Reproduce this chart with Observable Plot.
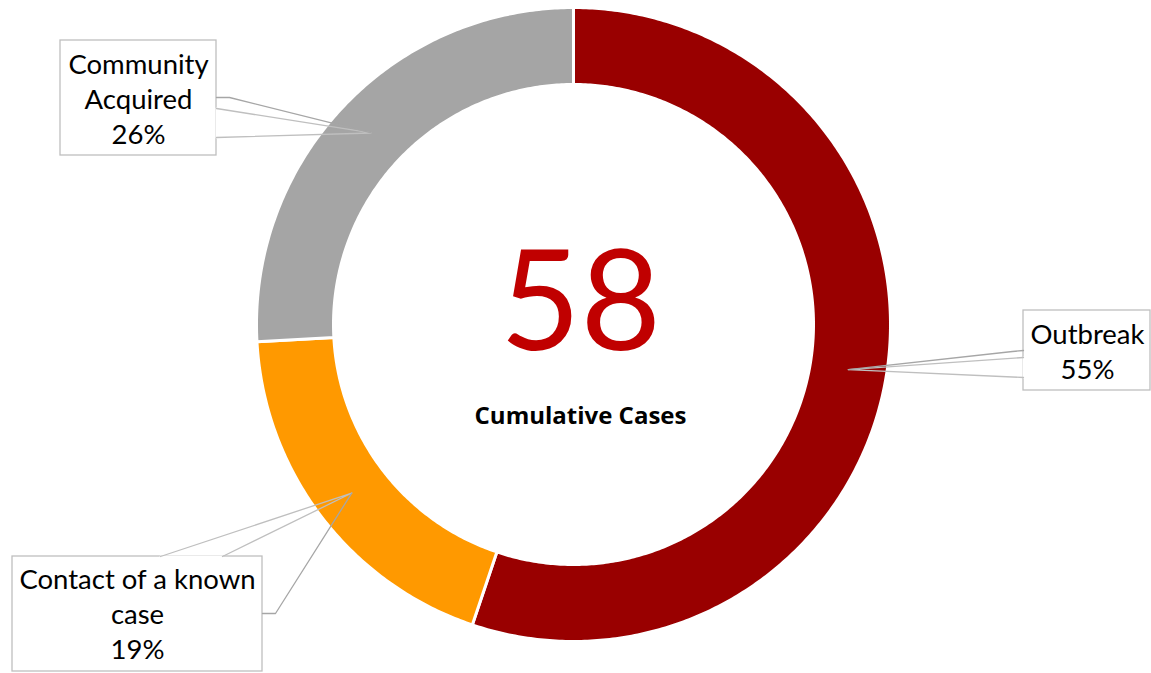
<!DOCTYPE html>
<html><head><meta charset="utf-8">
<script src="https://cdn.jsdelivr.net/npm/d3@7"></script>
<script src="https://cdn.jsdelivr.net/npm/@observablehq/plot@0.6"></script>
<style>body{margin:0;background:#fff;overflow:hidden}</style>
</head><body><div id="chart"></div>
<script>
// ---- data ----
const categories = ["Outbreak", "Contact of a known case", "Community Acquired"];
const counts = [32, 11, 15];
const labelLines = [["Outbreak"], ["Contact of a known", "case"], ["Community", "Acquired"]];
const sliceColors = ["#990000", "#FF9900", "#A5A5A5"];
const centerCaption = "Cumulative Cases";

// ---- layout ----
const W = 1151, H = 673;
const cx = 573, cy = 324, R = 317, r0 = 240;
const FONT = "Lato, 'Open Sans', sans-serif";
const CAPTION_FONT = "'Open Sans', Lato, sans-serif";
const callouts = [
  {box: [1023, 310, 1150, 390], tx: 1087, ty: 343, step: 35,
   wedge: [[1023, 357], [1023, 377]], leader: [[1023, 350], [1012, 351]]},
  {box: [12, 556, 262, 671], tx: 137, ty: 588, step: 35,
   wedge: [[160, 556], [222, 556]], leader: [[262, 613], [275, 613]]},
  {box: [60, 40, 216, 155], tx: 138, ty: 73, step: 35,
   wedge: [[216, 108], [216, 137]], leader: [[216, 97], [229, 97]]}
];

const total = d3.sum(counts);
const data = categories.map((c, i) => ({category: c, count: counts[i], color: sliceColors[i],
  lines: [...labelLines[i], Math.round(counts[i] / total * 100) + "%"]}));
const arcs = d3.pie().sort(null).value(d => d.count)(data);
const arcGen = d3.arc().innerRadius(r0).outerRadius(R);

function slicePoly(a) {
  const pts = [];
  const n = Math.max(8, Math.ceil((a.endAngle - a.startAngle) / 0.01));
  for (let k = 0; k <= n; k++) {
    const t = a.startAngle + (a.endAngle - a.startAngle) * k / n;
    pts.push({x: cx + R * Math.sin(t), y: cy - R * Math.cos(t)});
  }
  for (let k = n; k >= 0; k--) {
    const t = a.startAngle + (a.endAngle - a.startAngle) * k / n;
    pts.push({x: cx + r0 * Math.sin(t), y: cy - r0 * Math.cos(t)});
  }
  pts.push(pts[0]);
  return pts;
}

const marks = [];
arcs.forEach(a => {
  marks.push(Plot.line(slicePoly(a), {x: "x", y: "y", fill: a.data.color, stroke: "white", strokeWidth: 3, curve: "linear"}));
});

arcs.forEach((a, i) => {
  const c = callouts[i];
  const [tx, ty] = arcGen.centroid(a);
  const tip = [cx + tx, cy + ty];
  const [x1, y1, x2, y2] = c.box;
  marks.push(Plot.rect([c], {x1: () => x1, x2: () => x2, y1: () => y1, y2: () => y2, fill: "white", stroke: "#BFBFBF", strokeWidth: 1.3}));
  marks.push(Plot.line([c.wedge[0], c.wedge[1]], {x: d => d[0], y: d => d[1], stroke: "white", strokeWidth: 2}));
  marks.push(Plot.line([c.wedge[0], tip, c.wedge[1]], {x: d => d[0], y: d => d[1], stroke: "#BFBFBF", strokeWidth: 1.3}));
  marks.push(Plot.line([...c.leader, tip], {x: d => d[0], y: d => d[1], stroke: "#A6A6A6", strokeWidth: 1.3}));
  const rows = a.data.lines.map((t, k) => ({t, x: c.tx, y: c.ty + k * c.step}));
  marks.push(Plot.text(rows, {x: "x", y: "y", text: "t", fontSize: 27.5, fill: "black", lineAnchor: "bottom", fontFamily: FONT}));
});

marks.push(Plot.text([String(total)], {x: () => cx + 7, y: () => 349, text: d => d, fontSize: 139, fill: "#C00000", lineAnchor: "bottom", fontFamily: FONT}));
marks.push(Plot.text([centerCaption], {x: () => cx + 7, y: () => 423, text: d => d, fontSize: 24, fontWeight: "bold", fill: "black", lineAnchor: "bottom", fontFamily: CAPTION_FONT}));

const chart = Plot.plot({
  width: W, height: H, margin: 0,
  x: {domain: [0, W], range: [0, W], axis: null},
  y: {domain: [0, H], range: [0, H], axis: null},
  style: {background: "white", fontFamily: FONT},
  marks
});
document.getElementById("chart").appendChild(chart);
</script>
</body></html>
